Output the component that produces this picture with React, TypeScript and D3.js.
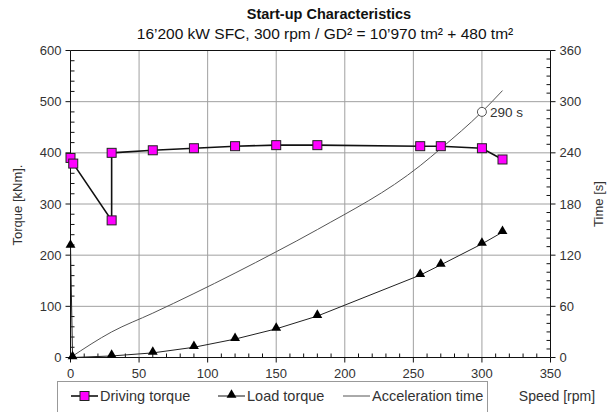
import React, { useEffect, useRef } from 'react';
import * as d3 from 'd3';

// speed [rpm] / torque [kNm] / time [s]
const drivingSpeed = [0, 2, 30, 30, 60, 90, 120, 150, 180, 255, 270, 300, 315];
const drivingTorque = [390, 379, 268, 400, 405, 409, 413, 415, 415, 413, 413, 409, 387];

const loadSpeed = [0, 1.5, 30, 60, 90, 120, 150, 180, 255, 270, 300, 315];
const loadTorque = [218, 0, 3, 9, 20, 36, 56, 81, 161, 181, 222, 245];

const accelSpeed = [0, 30, 60, 90, 120, 150, 180, 255, 270, 300, 315];
const accelTime = [0, 30, 52, 75, 99, 124, 150, 225, 245, 288, 313];

const speedTicks = [0, 50, 100, 150, 200, 250, 300, 350];
const torqueTicks = [0, 100, 200, 300, 400, 500, 600];
const timeTicks = [0, 60, 120, 180, 240, 300, 360];

const markSpeed = 300;
const markTime = 288;
const markLabel = '290 s';

const legendItems = ['Driving torque', 'Load torque', 'Acceleration time'];

export default function App() {
  const svgRef = useRef<SVGSVGElement>(null);

  useEffect(() => {
    const svg = d3.select(svgRef.current);
    svg.selectAll('*').remove();
    const font = 'Liberation Sans, Arial, sans-serif';

    const x = d3.scaleLinear().domain([0, 350]).range([70.5, 550.5]);
    const y = d3.scaleLinear().domain([0, 600]).range([357.5, 50.5]);
    const yT = d3.scaleLinear().domain([0, 360]).range([357.5, 50.5]);

    // title
    svg.append('text').attr('x', 329).attr('y', 19).attr('text-anchor', 'middle')
      .attr('font-family', font).attr('font-size', 14.5).attr('font-weight', 'bold').attr('fill', '#111')
      .text('Start-up Characteristics');
    svg.append('text').attr('x', 325).attr('y', 39).attr('text-anchor', 'middle')
      .attr('font-family', font).attr('font-size', 15.5).attr('fill', '#111')
      .text('16\u2019200 kW SFC, 300 rpm / GD\u00b2 = 10\u2019970 tm\u00b2 + 480 tm\u00b2');

    const g = svg.append('g');

    // grid
    g.selectAll('line.vg').data(speedTicks.filter((d) => d > 0 && d < 350)).join('line')
      .attr('x1', (d) => x(d)).attr('x2', (d) => x(d)).attr('y1', y(0)).attr('y2', y(600))
      .attr('stroke', '#a0a0a0').attr('stroke-width', 1);
    g.selectAll('line.hg').data(torqueTicks.filter((d) => d > 0 && d < 600)).join('line')
      .attr('x1', x(0)).attr('x2', x(350)).attr('y1', (d) => y(d)).attr('y2', (d) => y(d))
      .attr('stroke', '#a0a0a0').attr('stroke-width', 1);

    // frame
    g.append('line').attr('x1', x(0)).attr('x2', x(350)).attr('y1', y(600)).attr('y2', y(600)).attr('stroke', '#111');
    g.append('line').attr('x1', x(0)).attr('x2', x(350)).attr('y1', y(0)).attr('y2', y(0)).attr('stroke', '#111');
    g.append('line').attr('x1', x(0)).attr('x2', x(0)).attr('y1', y(0)).attr('y2', y(600)).attr('stroke', '#111');
    g.append('line').attr('x1', x(350)).attr('x2', x(350)).attr('y1', y(0)).attr('y2', y(600)).attr('stroke', '#111');

    // bottom ticks
    g.selectAll('line.xm').data(d3.range(0, 351, 10).filter((d) => d % 50 !== 0)).join('line')
      .attr('x1', (d) => x(d)).attr('x2', (d) => x(d)).attr('y1', y(0)).attr('y2', y(0) - 4).attr('stroke', '#111');
    g.selectAll('line.xM').data(speedTicks).join('line')
      .attr('x1', (d) => x(d)).attr('x2', (d) => x(d)).attr('y1', y(0)).attr('y2', y(0) + 5).attr('stroke', '#111');
    g.selectAll('text.xl').data(speedTicks).join('text')
      .attr('x', (d) => x(d)).attr('y', y(0) + 20).attr('text-anchor', 'middle')
      .attr('font-family', font).attr('font-size', 13).attr('fill', '#333').text((d) => d);

    // left ticks
    g.selectAll('line.ym').data(d3.range(0, 601, 20).filter((d) => d % 100 !== 0)).join('line')
      .attr('x1', x(0)).attr('x2', x(0) + 4).attr('y1', (d) => y(d)).attr('y2', (d) => y(d)).attr('stroke', '#111');
    g.selectAll('line.yM').data(torqueTicks).join('line')
      .attr('x1', x(0) - 5).attr('x2', x(0)).attr('y1', (d) => y(d)).attr('y2', (d) => y(d)).attr('stroke', '#111');
    g.selectAll('text.yl').data(torqueTicks).join('text')
      .attr('x', x(0) - 9).attr('y', (d) => y(d) + 4.5).attr('text-anchor', 'end')
      .attr('font-family', font).attr('font-size', 13).attr('fill', '#333').text((d) => d);

    // right ticks
    g.selectAll('line.tm').data(d3.range(0, 361, 10).filter((d) => d % 60 !== 0)).join('line')
      .attr('x1', x(350) - 4).attr('x2', x(350)).attr('y1', (d) => yT(d)).attr('y2', (d) => yT(d)).attr('stroke', '#111');
    g.selectAll('line.tM').data(timeTicks).join('line')
      .attr('x1', x(350)).attr('x2', x(350) + 5).attr('y1', (d) => yT(d)).attr('y2', (d) => yT(d)).attr('stroke', '#111');
    g.selectAll('text.tl').data(timeTicks).join('text')
      .attr('x', x(350) + 9).attr('y', (d) => yT(d) + 4.5).attr('text-anchor', 'start')
      .attr('font-family', font).attr('font-size', 13).attr('fill', '#333').text((d) => d);

    // axis titles
    svg.append('text').attr('transform', 'translate(22,205) rotate(-90)').attr('text-anchor', 'middle')
      .attr('font-family', font).attr('font-size', 13).attr('fill', '#333').text('Torque [kNm].');
    svg.append('text').attr('transform', 'translate(603,204) rotate(-90)').attr('text-anchor', 'middle')
      .attr('font-family', font).attr('font-size', 13).attr('fill', '#333').text('Time [s]');
    svg.append('text').attr('x', 557).attr('y', 401).attr('text-anchor', 'middle')
      .attr('font-family', font).attr('font-size', 14).attr('fill', '#333').text('Speed  [rpm]');

    // acceleration time
    const accel = accelSpeed.map((s, i) => [s, accelTime[i]] as [number, number]);
    g.append('path').datum(accel)
      .attr('d', d3.line<[number, number]>().x((d) => x(d[0])).y((d) => yT(d[1])).curve(d3.curveMonotoneX))
      .attr('fill', 'none').attr('stroke', '#555').attr('stroke-width', 1);
    g.append('circle').attr('cx', x(markSpeed)).attr('cy', yT(markTime)).attr('r', 4.5)
      .attr('fill', '#fff').attr('stroke', '#555').attr('stroke-width', 1);
    g.append('text').attr('x', x(markSpeed) + 8).attr('y', yT(markTime) + 5)
      .attr('font-family', font).attr('font-size', 13.5).attr('fill', '#333').text(markLabel);

    // load torque
    const load = loadSpeed.map((s, i) => [s, loadTorque[i]] as [number, number]);
    g.append('path').datum(load)
      .attr('d', d3.line<[number, number]>().x((d) => x(d[0])).y((d) => y(d[1])))
      .attr('fill', 'none').attr('stroke', '#222').attr('stroke-width', 1);
    const tri = d3.symbol().type(d3.symbolTriangle).size(42);
    g.selectAll('path.tri').data(load).join('path')
      .attr('transform', (d) => 'translate(' + x(d[0]) + ',' + (y(d[1]) - 1) + ')')
      .attr('d', tri).attr('fill', '#000');

    // driving torque
    const drive = drivingSpeed.map((s, i) => [s, drivingTorque[i]] as [number, number]);
    g.append('path').datum(drive)
      .attr('d', d3.line<[number, number]>().x((d) => x(d[0])).y((d) => y(d[1])))
      .attr('fill', 'none').attr('stroke', '#111').attr('stroke-width', 1.6);
    g.selectAll('rect.sq').data(drive).join('rect')
      .attr('x', (d) => x(d[0]) - 4.5).attr('y', (d) => y(d[1]) - 4.5)
      .attr('width', 9).attr('height', 9)
      .attr('fill', '#ff00ff').attr('stroke', '#222').attr('stroke-width', 1);

    // legend
    const lg = svg.append('g');
    lg.append('rect').attr('x', 57.5).attr('y', 381.5).attr('width', 430).attr('height', 40)
      .attr('fill', '#fff').attr('stroke', '#999');
    const lx = [71, 218, 343];
    const ly = 396;
    lg.selectAll('line.li').data(lx).join('line')
      .attr('x1', (d) => d).attr('x2', (d) => d + 27).attr('y1', ly).attr('y2', ly)
      .attr('stroke', (d, i) => (i === 2 ? '#555' : '#111')).attr('stroke-width', (d, i) => (i === 0 ? 1.6 : 1));
    lg.append('rect').attr('x', lx[0] + 9).attr('y', ly - 4.5).attr('width', 9).attr('height', 9)
      .attr('fill', '#ff00ff').attr('stroke', '#222');
    lg.append('path').attr('transform', 'translate(' + (lx[1] + 13.5) + ',' + (ly - 1) + ')').attr('d', tri).attr('fill', '#000');
    lg.selectAll('text.lt').data(legendItems).join('text')
      .attr('x', (d, i) => lx[i] + 29).attr('y', ly + 5)
      .attr('font-family', font).attr('font-size', 14.5).attr('fill', '#333').text((d) => d);
  }, []);

  return (
    <svg ref={svgRef} width={612} height={412}
      style={{ position: 'absolute', left: 0, top: 0, background: '#fff' }} />
  );
}
